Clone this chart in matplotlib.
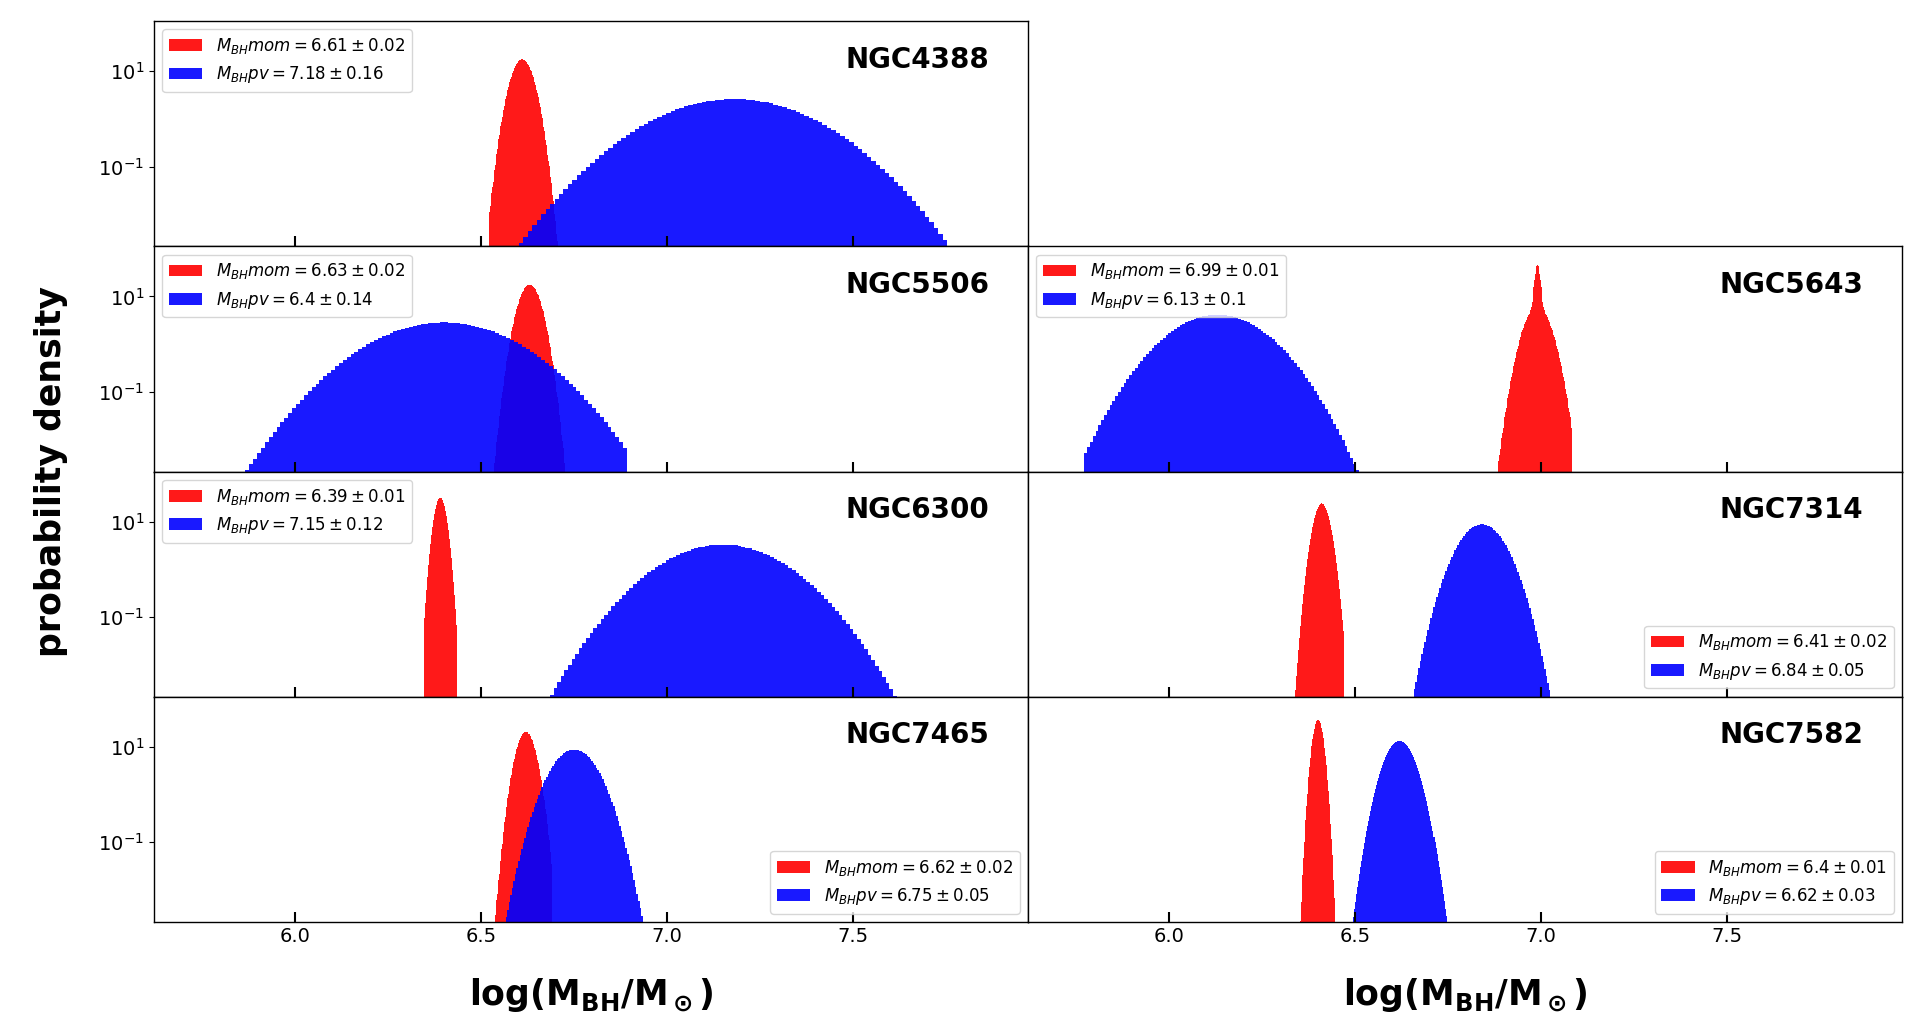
import matplotlib.pyplot as plt
import numpy as np
from matplotlib.ticker import NullLocator

#---------------------------------------------------------------- data ----------------------------------------------------------------#
galaxies = ["NGC4388", "NGC5506", "NGC5643", "NGC6300", "NGC7314", "NGC7465", "NGC7582"]
panel_row = [0, 1, 1, 2, 2, 3, 3]
panel_col = [0, 0, 1, 0, 1, 0, 1]

# values quoted in the legends
mom_mean = [6.61, 6.63, 6.99, 6.39, 6.41, 6.62, 6.4]
mom_err = [0.02, 0.02, 0.01, 0.01, 0.02, 0.02, 0.01]
pv_mean = [7.18, 6.4, 6.13, 7.15, 6.84, 6.75, 6.62]
pv_err = [0.16, 0.14, 0.1, 0.12, 0.05, 0.05, 0.03]

# width of the drawn distributions (read from the peak heights)
mom_width = [0.0227, 0.0227, 0.027, 0.0125, 0.0165, 0.0194, 0.0107]
pv_width = [0.154, 0.14, 0.097, 0.121, 0.0454, 0.0454, 0.0302]
# NGC5643 mom has a narrow spike on top of a broader body
mom_spike_frac = [0, 0, 0.6, 0, 0, 0, 0]
mom_spike_width = [1, 1, 0.006, 1, 1, 1, 1]

# visible range of every histogram
mom_lo = [6.52, 6.533, 6.883, 6.346, 6.338, 6.528, 6.329]
mom_hi = [6.706, 6.725, 7.083, 6.436, 6.470, 6.690, 6.445]
pv_lo = [6.565, 5.845, 5.772, 6.675, 6.657, 6.561, 6.489]
pv_hi = [7.765, 6.892, 6.524, 7.646, 7.06, 6.98, 6.759]

legend_loc = ["upper left", "upper left", "upper left", "upper left",
              "lower right", "lower right", "lower right"]

NBINS = 100


def gauss(x, mu, s):
    return np.exp(-0.5 * ((x - mu) / s)**2) / (s * np.sqrt(2 * np.pi))


def mom_density(i, x):
    f = mom_spike_frac[i]
    return (1 - f) * gauss(x, mom_mean[i], mom_width[i]) + f * gauss(x, mom_mean[i], mom_spike_width[i])


#---------------------------------------------------------------- figure ----------------------------------------------------------------#
fig, axes = plt.subplots(4, 2, figsize=(19.2, 10.36), dpi=100, sharex=True, sharey=True)
fig.subplots_adjust(left=0.0802, right=0.9906, top=0.9797, bottom=0.110, hspace=0, wspace=0)
axes[0, 1].remove()

for i in range(len(galaxies)):
    ax = axes[panel_row[i], panel_col[i]]

    e = np.linspace(mom_lo[i], mom_hi[i], NBINS + 1)
    c = 0.5 * (e[1:] + e[:-1])
    ax.hist(c, bins=e, weights=mom_density(i, c), color="red", alpha=0.9, log=True,
            histtype="stepfilled", linewidth=0,
            label=r"$M_{BH}mom = %s \pm %s$" % (mom_mean[i], mom_err[i]))

    e = np.linspace(pv_lo[i], pv_hi[i], NBINS + 1)
    c = 0.5 * (e[1:] + e[:-1])
    ax.hist(c, bins=e, weights=gauss(c, pv_mean[i], pv_width[i]), color="blue", alpha=0.9, log=True,
            histtype="stepfilled", linewidth=0,
            label=r"$M_{BH}pv = %s \pm %s$" % (pv_mean[i], pv_err[i]))

    ax.legend(loc=legend_loc[i], fontsize=12)
    ax.text(0.956, 0.793, galaxies[i], transform=ax.transAxes, ha="right", va="baseline",
            fontsize=20, fontweight="bold")

for ax in axes.flat:
    if ax is axes[0, 1]:
        continue
    ax.set_xlim(5.62, 7.97)
    ax.set_ylim(0.00214, 112)
    ax.set_yticks([0.1, 10])
    ax.yaxis.set_minor_locator(NullLocator())
    ax.set_xticks([6.0, 6.5, 7.0, 7.5])
    ax.tick_params(axis="x", direction="in", length=7, width=1.5, labelsize=14)
    ax.tick_params(axis="y", labelsize=14)
    for s in ax.spines.values():
        s.set_linewidth(1.0)

for ax in axes[:, 1]:
    ax.tick_params(axis="y", left=False, labelleft=False)

for ax in axes[3, :]:
    ax.set_xlabel(r"$\mathbf{log(M_{BH}/M_\odot)}$", fontsize=25, labelpad=22)
    ax.tick_params(axis="x", labelbottom=True)

fig.text(0.0266, 0.545, "probability density", rotation=90, fontsize=25, fontweight="bold",
         ha="center", va="center")

plt.savefig("out.png", dpi=100)
